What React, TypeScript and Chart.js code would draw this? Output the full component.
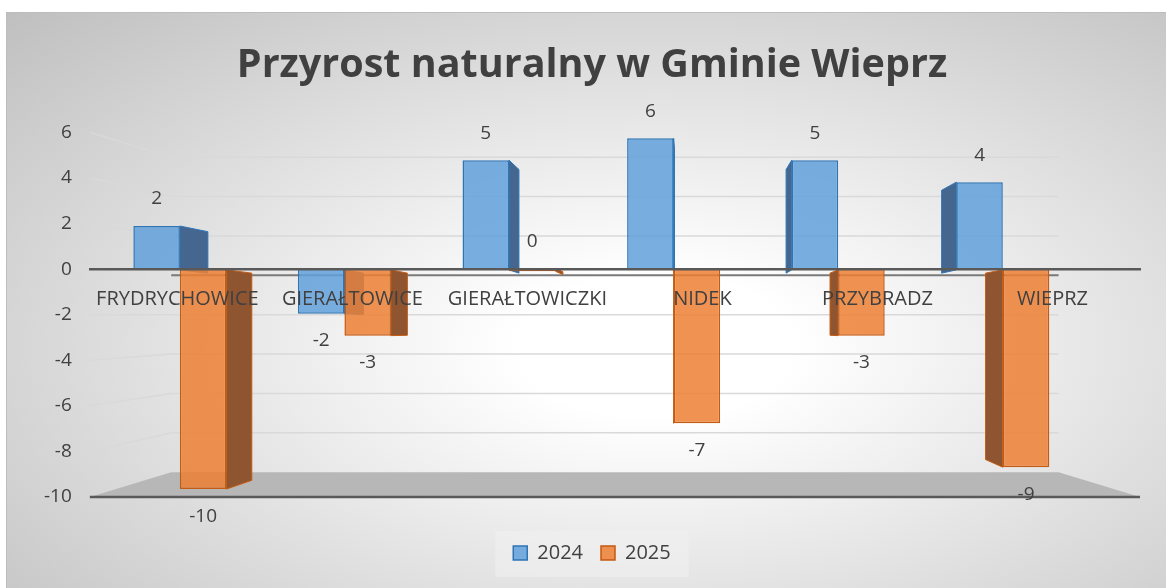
import React, { useEffect, useRef } from "react";
import { Chart, registerables } from "chart.js";

Chart.register(...registerables);

// ---------- data ----------
const categories = ["FRYDRYCHOWICE", "GIERAŁTOWICE", "GIERAŁTOWICZKI", "NIDEK", "PRZYBRADZ", "WIEPRZ"];
const seriesNames = ["2024", "2025"];
const values2024 = [2, -2, 5, 6, 5, 4];
const values2025 = [-10, -3, 0, -7, -3, -9];
const yTickValues = [-10, -8, -6, -4, -2, 0, 2, 4, 6];
const chartTitle = "Przyrost naturalny w Gminie Wieprz";

// ---------- style ----------
const FONT = "'Open Sans', 'DejaVu Sans', sans-serif";
const TEXT = "#404040";
const FACE = ["rgba(98,160,218,0.85)", "rgba(237,128,52,0.85)"];
const EDGE = ["#2e75b6", "#c55a11"];
const SIDE = ["#45668f", "#8f5430"];
const GRID = "#d9d9d9";
const FLOOR = "#b7b7b7";
const AXIS_DARK = "#595959";

// projection parameters (fractions of the front plot area)
const BACK_SX = 0.845;
const BACK_SY = 0.864;
const BAR_PLANE_SCALE = 0.9404;
const BAR_PLANE_ANCHOR = 0.123;
const VP_FX = 0.571;
const VP_FY = 0.54;
const DEPTH = 0.055;
const LABEL_GAP = 27;

const depthPlugin = {
  id: "depth3d",
  afterLayout(chart: any) {
    const xb = chart.scales.xb;
    const a = chart.chartArea;
    const w = a.right - a.left;
    const anchor = a.left + w * BAR_PLANE_ANCHOR;
    xb.left = anchor + (a.left - anchor) * BAR_PLANE_SCALE;
    xb.right = anchor + (a.right - anchor) * BAR_PLANE_SCALE;
    xb.width = xb.right - xb.left;
    xb.configure();
  },
  beforeDraw(chart: any) {
    const { ctx } = chart;
    const lg = chart.legend;
    if (lg && lg.legendHitBoxes && lg.legendHitBoxes.length) {
      const hb = lg.legendHitBoxes;
      const l = Math.min(...hb.map((h: any) => h.left));
      const r = Math.max(...hb.map((h: any) => h.left + h.width));
      const t = Math.min(...hb.map((h: any) => h.top));
      const b = Math.max(...hb.map((h: any) => h.top + h.height));
      ctx.save();
      ctx.fillStyle = "rgba(240,240,240,0.6)";
      ctx.fillRect(l - 18, t - 12, r - l + 36, b - t + 26);
      ctx.restore();
    }
  },
  beforeDatasetsDraw(chart: any) {
    const { ctx } = chart;
    const a = chart.chartArea;
    const y = chart.scales.y;
    const cx = (a.left + a.right) / 2;
    const cy = (a.top + a.bottom) / 2;
    const bx = (px: number) => cx + (px - cx) * BACK_SX;
    const by = (py: number) => cy + (py - cy) * BACK_SY;
    const bl = bx(a.left);
    const br = bx(a.right);
    const minV = Math.min(...yTickValues);
    ctx.save();
    // back wall + side wall gridlines
    ctx.strokeStyle = GRID;
    ctx.lineWidth = 1.5;
    for (const v of yTickValues) {
      if (v === minV || v === 0) continue;
      const fy = y.getPixelForValue(v);
      ctx.beginPath();
      ctx.moveTo(a.left, fy);
      ctx.lineTo(bl, by(fy));
      ctx.lineTo(br, by(fy));
      ctx.stroke();
    }
    // floor
    const fb = y.getPixelForValue(minV);
    ctx.fillStyle = FLOOR;
    ctx.beginPath();
    ctx.moveTo(a.left, fb);
    ctx.lineTo(bl, by(fb));
    ctx.lineTo(br, by(fb));
    ctx.lineTo(a.right, fb);
    ctx.closePath();
    ctx.fill();
    ctx.strokeStyle = AXIS_DARK;
    ctx.lineWidth = 2.5;
    ctx.beginPath();
    ctx.moveTo(a.left, fb);
    ctx.lineTo(a.right, fb);
    ctx.stroke();
    // back zero line
    const f0 = y.getPixelForValue(0);
    ctx.strokeStyle = "#7a7a7a";
    ctx.lineWidth = 2;
    ctx.beginPath();
    ctx.moveTo(bl, by(f0));
    ctx.lineTo(br, by(f0));
    ctx.stroke();
    // bar side faces
    const vx = a.left + (a.right - a.left) * VP_FX;
    const vy = a.top + (a.bottom - a.top) * VP_FY;
    chart.data.datasets.forEach((_ds: any, di: number) => {
      const meta = chart.getDatasetMeta(di);
      meta.data.forEach((bar: any) => {
        const { x, y: yy, base, width } = bar.getProps(["x", "y", "base", "width"], true);
        const top = Math.min(yy, base);
        const bottom = Math.max(yy, base);
        const edge = x < vx ? x + width / 2 : x - width / 2;
        const x1 = edge + (vx - edge) * DEPTH;
        const y1 = top + (vy - top) * DEPTH;
        const x2 = edge + (vx - edge) * DEPTH;
        const y2 = bottom + (vy - bottom) * DEPTH;
        ctx.fillStyle = SIDE[di];
        ctx.strokeStyle = EDGE[di];
        ctx.lineWidth = 1;
        ctx.beginPath();
        ctx.moveTo(edge, top);
        ctx.lineTo(x1, y1);
        ctx.lineTo(x2, y2);
        ctx.lineTo(edge, bottom);
        ctx.closePath();
        ctx.fill();
        ctx.stroke();
      });
    });
    ctx.restore();
  },
  afterDatasetsDraw(chart: any) {
    const { ctx } = chart;
    ctx.save();
    ctx.font = `19px ${FONT}`;
    ctx.fillStyle = TEXT;
    ctx.textAlign = "center";
    ctx.textBaseline = "middle";
    chart.data.datasets.forEach((ds: any, di: number) => {
      const meta = chart.getDatasetMeta(di);
      meta.data.forEach((bar: any, i: number) => {
        const v = ds.data[i];
        const { x, y: yy, base } = bar.getProps(["x", "y", "base"], true);
        const py = v >= 0 ? Math.min(yy, base) - LABEL_GAP : Math.max(yy, base) + LABEL_GAP;
        ctx.fillText(String(v), x, py);
      });
    });
    ctx.restore();
  },
};

const noSidePadding = (s: any) => {
  s.paddingLeft = 0;
  s.paddingRight = 0;
};

export default function App() {
  const ref = useRef<HTMLCanvasElement | null>(null);

  useEffect(() => {
    document.documentElement.style.overflow = "hidden";
    document.body.style.overflow = "hidden";
    const canvas = ref.current;
    if (!canvas) return;
    const chart = new Chart(canvas, {
      type: "bar",
      data: {
        labels: categories,
        datasets: [
          {
            label: seriesNames[0],
            data: values2024,
            backgroundColor: FACE[0],
            borderColor: EDGE[0],
            borderWidth: 1.5,
            xAxisID: "xb",
            yAxisID: "yb",
            minBarLength: 3,
          },
          {
            label: seriesNames[1],
            data: values2025,
            backgroundColor: FACE[1],
            borderColor: EDGE[1],
            borderWidth: 1.5,
            xAxisID: "xb",
            yAxisID: "yb",
            minBarLength: 3,
          },
        ],
      },
      options: {
        responsive: false,
        animation: false,
        categoryPercentage: 0.565,
        barPercentage: 1,
        layout: { padding: { left: 38, right: 26, top: 0, bottom: 15 } },
        plugins: {
          title: {
            display: true,
            text: chartTitle,
            color: TEXT,
            font: { family: FONT, size: 39.5, weight: "bold" },
            padding: { top: 30, bottom: 43 },
          },
          legend: {
            position: "bottom",
            labels: {
              color: TEXT,
              font: { family: FONT, size: 20 },
              boxWidth: 14,
              boxHeight: 14,
              padding: 18,
            },
          },
          tooltip: { enabled: false },
        },
        scales: {
          x: {
            type: "category",
            position: { y: 0 } as any,
            offset: true,
            grid: { display: false, drawTicks: false },
            border: { display: true, color: AXIS_DARK, width: 2.5, z: 1 },
            ticks: {
              color: TEXT,
              font: { family: FONT, size: 20 },
              padding: 18,
              maxRotation: 0,
              autoSkip: false,
              z: 1,
            },
            afterFit: noSidePadding,
          },
          xb: {
            type: "category",
            position: "bottom",
            offset: true,
            display: true,
            grid: { display: false, drawTicks: false },
            border: { display: false },
            ticks: { display: false },
            afterFit: (s: any) => {
              s.height = 28;
              s.paddingLeft = 0;
              s.paddingRight = 0;
            },
          },
          y: {
            type: "linear",
            position: "left",
            min: -10,
            max: 6,
            grid: { display: false, drawTicks: false },
            border: { display: false },
            afterBuildTicks: (s: any) => {
              s.ticks = yTickValues.map((v) => ({ value: v }));
            },
            afterFit: (s: any) => {
              s.width -= s.options.ticks.padding;
            },
            ticks: { color: TEXT, font: { family: FONT, size: 19 }, padding: 18 },
          },
          yb: {
            type: "linear",
            position: "left",
            display: false,
            min: -10.36,
            max: 6.27,
          },
        },
      },
      plugins: [depthPlugin],
    } as any);
    return () => chart.destroy();
  }, []);

  return (
    <div
      style={{
        position: "absolute",
        left: 6,
        top: 12,
        width: 1160,
        height: 576,
        background:
          "radial-gradient(ellipse farthest-corner at 56% 58%, #ffffff 0%, #ffffff 15%, #bfbfbf 100%)",
        boxShadow: "inset 1px 1px 0 #bdbdbd",
      }}
    >
      <canvas ref={ref} width={1160} height={576} style={{ display: "block" }} />
    </div>
  );
}
